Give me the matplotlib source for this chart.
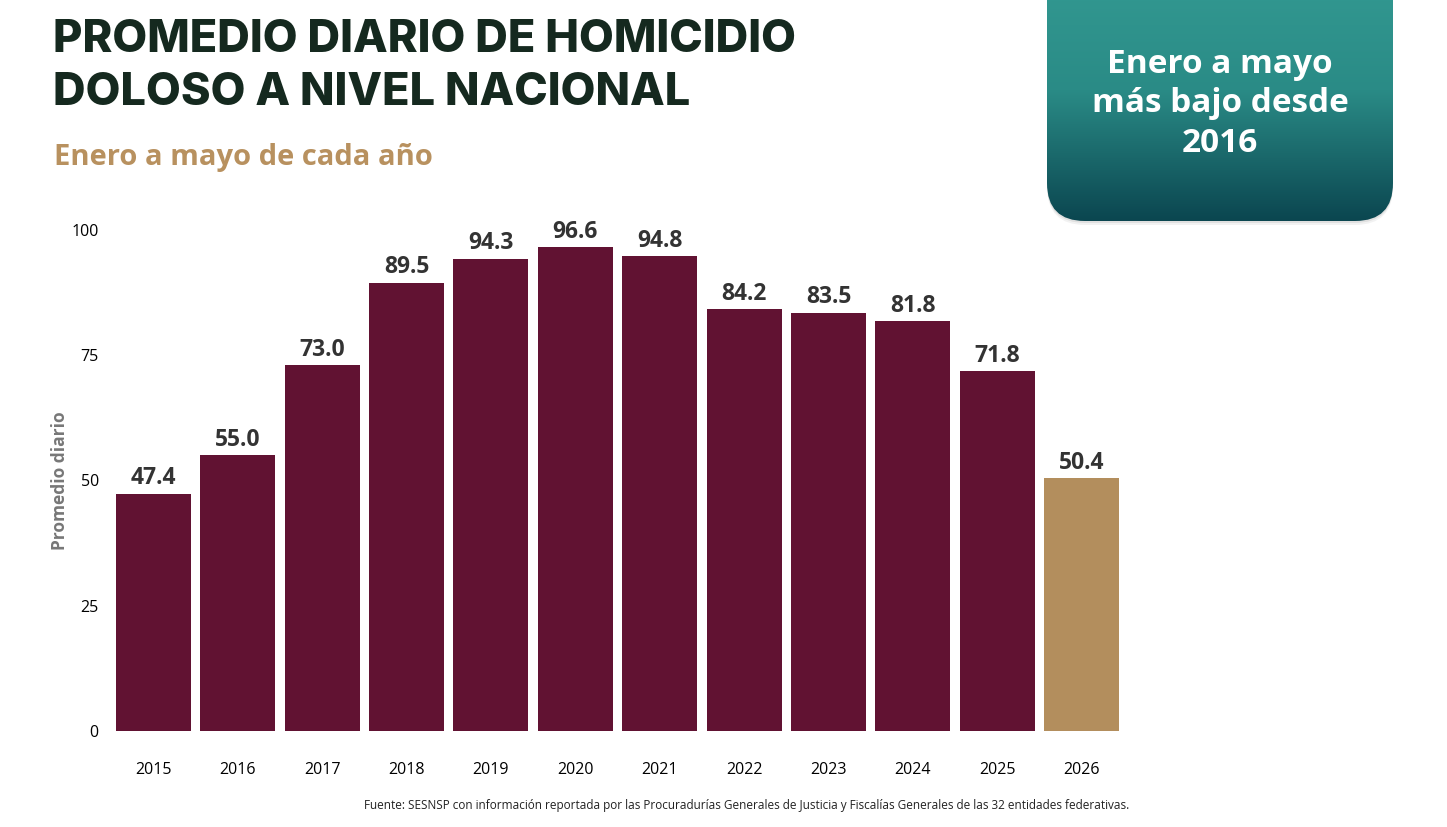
import numpy as np
import matplotlib.pyplot as plt
from matplotlib.patches import FancyBboxPatch
from matplotlib.colors import LinearSegmentedColormap

# Datos
anios = ['2015', '2016', '2017', '2018', '2019', '2020', '2021', '2022', '2023', '2024', '2025', '2026']
promedio = [47.4, 55.0, 73.0, 89.5, 94.3, 96.6, 94.8, 84.2, 83.5, 81.8, 71.8, 50.4]
y_ticks = [0, 25, 50, 75, 100]

guinda = '#611232'
dorado = '#b38e5d'
colores = [guinda] * (len(anios) - 1) + [dorado]

fig = plt.figure(figsize=(14.47, 8.27), dpi=100)
fig.patch.set_facecolor('white')

# Fondo en pixeles para la caja y los textos
bg = fig.add_axes([0, 0, 1, 1], zorder=0)
bg.set_xlim(0, 1447)
bg.set_ylim(827, 0)
bg.axis('off')

# Caja con degradado
for d, a in [(4, 0.05), (2, 0.07)]:
    sombra = FancyBboxPatch((1047, -40 + d), 346, 261, boxstyle='round,pad=0,rounding_size=38',
                            facecolor='#000000', alpha=a, edgecolor='none')
    bg.add_patch(sombra)
caja = FancyBboxPatch((1047, -40), 346, 261, boxstyle='round,pad=0,rounding_size=38',
                      facecolor='none', edgecolor='none')
bg.add_patch(caja)
grad = np.linspace(0, 1, 256).reshape(-1, 1)
cmap = LinearSegmentedColormap.from_list('verde', ['#349b93', '#2a8b86', '#0b4650'])
img = bg.imshow(grad, cmap=cmap, extent=[1047, 1393, 221, -40], aspect='auto', zorder=1)
img.set_clip_path(caja)
bg.text(1220, 104, 'Enero a mayo\nmás bajo desde\n2016', ha='center', va='center',
        color='white', fontsize=24, fontweight='bold', family='Open Sans',
        linespacing=1.25, zorder=2)

# Titulos
bg.text(53, 40, 'PROMEDIO DIARIO DE HOMICIDIO', ha='left', va='center',
        fontsize=32.5, fontweight='heavy', family='Inter', color='#15291f')
bg.text(53, 93, 'DOLOSO A NIVEL NACIONAL', ha='left', va='center',
        fontsize=32.5, fontweight='heavy', family='Inter', color='#15291f')
bg.text(54, 157, 'Enero a mayo de cada año', ha='left', va='center',
        fontsize=21, fontweight='bold', family='Open Sans', color='#b8915f')
bg.text(747, 806, 'Fuente: SESNSP con información reportada por las Procuradurías Generales de Justicia y '
        'Fiscalías Generales de las 32 entidades federativas.', ha='center', va='center',
        fontsize=8.5, family='Open Sans', color='#222222')

# Grafica
ax = fig.add_axes([0.0769, 0.1161, 0.6997, 0.6058], zorder=3)
ax.patch.set_alpha(0)
x = np.arange(len(anios))
barras = ax.bar(x, promedio, width=0.89, color=colores)
for xi, v in zip(x, promedio):
    ax.text(xi, v + 0.7, f'{v:.1f}', ha='center', va='bottom', fontsize=16.5,
            fontweight='bold', family='Open Sans', color='#333333')

ax.set_xlim(-0.5, len(anios) - 0.5)
ax.set_ylim(0, 100)
ax.set_xticks(x)
ax.set_xticklabels(anios, family='Open Sans', fontsize=11.5)
ax.set_yticks(y_ticks)
ax.set_yticklabels([str(t) for t in y_ticks], family='Open Sans', fontsize=11.5)
ax.tick_params(axis='x', length=0, pad=22)
ax.tick_params(axis='y', length=0, pad=9)
for s in ax.spines.values():
    s.set_visible(False)
ax.set_ylabel('Promedio diario', family='Open Sans', fontsize=12.5, fontweight='bold',
              color='#777777', labelpad=2)

fig.savefig('out.png', dpi=100)
